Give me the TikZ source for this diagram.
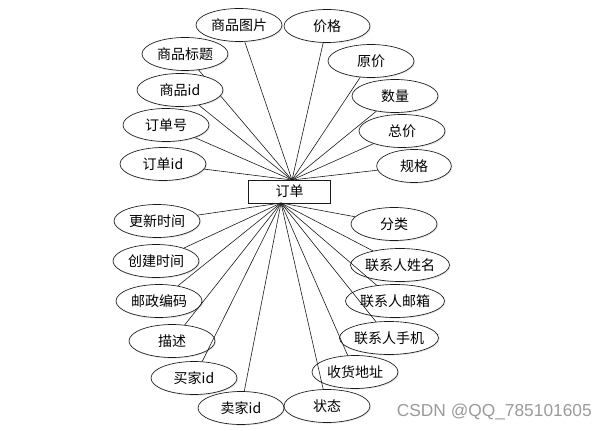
\documentclass[tikz,border=0pt]{standalone}
\usepackage{fontspec}
\setmainfont{Noto Sans CJK SC}
\newfontfamily\markfont{Liberation Sans}
\usetikzlibrary{shapes.geometric,shadows}
\definecolor{ink}{HTML}{1A1A1A}
\definecolor{faint}{HTML}{9A9A9A}
\tikzset{
  attr/.style={ellipse,draw=ink,line width=0.5pt,fill=white,inner sep=0pt,
    minimum width=64.5pt,minimum height=24.75pt,font=\fontsize{10.5}{12}\selectfont,
    drop shadow={shadow xshift=0.8pt,shadow yshift=-0.8pt,opacity=0.2}},
  entity/.style={rectangle,draw=ink,line width=0.6pt,fill=white,inner sep=0pt,
    minimum width=61.5pt,minimum height=17.25pt,font=\fontsize{10.5}{12}\selectfont},
  link/.style={draw=ink,line width=0.45pt}
}

\begin{document}
\begin{tikzpicture}[x=0.75pt,y=-0.75pt]
  \useasboundingbox (0,0) rectangle (606,431);
  % entity
  \node[entity] (order) at (289.5,191.5) {订单};
  \coordinate (top) at (292,180);
  \coordinate (bot) at (281,203);
  % upper attributes
  \foreach \n/\x/\y/\t in {pic/239/25/商品图片,title/185/54/商品标题,gid/180/90/商品id,
      ono/166/125/订单号,oid/163/164/订单id,price/327/26/价格,orig/371/61/原价,
      qty/395/96/数量,total/402/131/总价}{
    \node[attr] (\n) at (\x,\y) {\t};
    \draw[link] (top) -- (\n);
  }
  \node[attr,minimum width=56pt] (spec) at (414,166) {规格};
  \draw[link] (top) -- (spec);
  % lower attributes
  \foreach \n/\x/\y/\t in {upd/157/221/更新时间,crt/156/261/创建时间,zip/159/301/邮政编码,
      desc/172/341/描述,buyer/194/378/买家id,seller/241/408/卖家id,cat/394/224/分类,
      cname/400/265/联系人姓名,cmail/395/301/联系人邮箱,cphone/389/338/联系人手机,
      addr/355/372/收货地址,state/327/406/状态}{
    \node[attr] (\n) at (\x,\y) {\t};
    \draw[link] (bot) -- (\n);
  }
  \node[anchor=east,inner sep=0pt,text=faint,font=\markfont\fontsize{13}{14}\selectfont]
    (wm) at (592,412) {CSDN @QQ\_785101605};
\end{tikzpicture}
\end{document}
